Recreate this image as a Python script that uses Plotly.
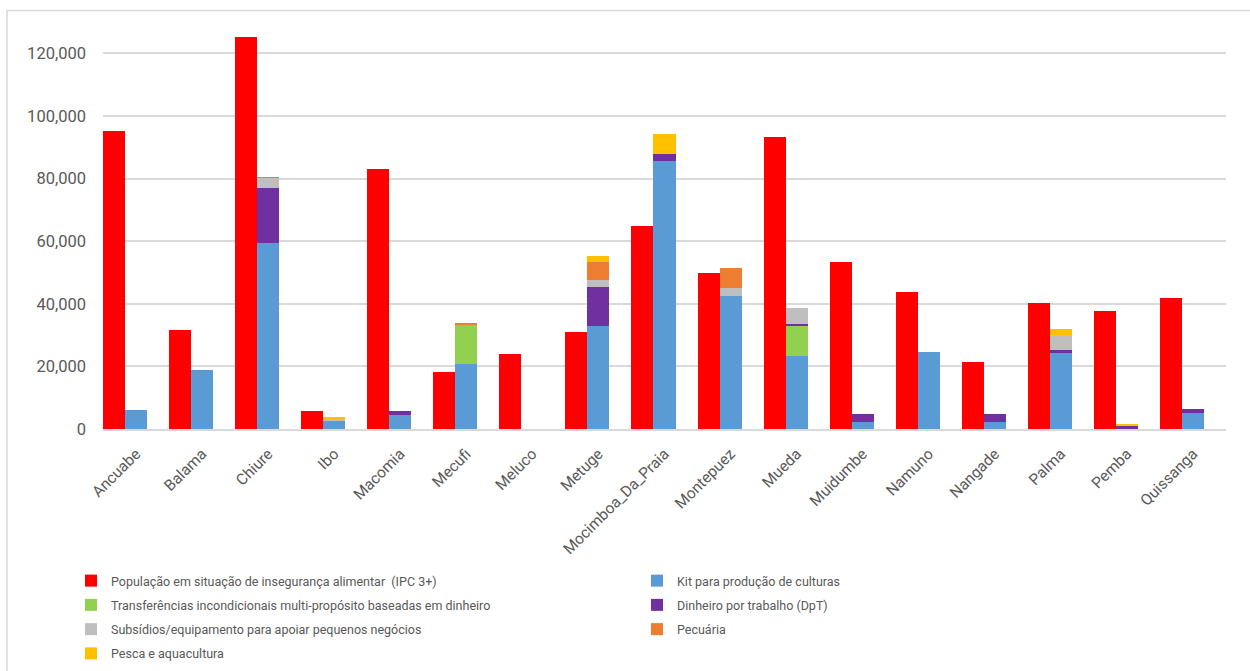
import numpy as np
import plotly.graph_objects as go

districts = ["Ancuabe", "Balama", "Chiure", "Ibo", "Macomia", "Mecufi", "Meluco", "Metuge",
             "Mocimboa_Da_Praia", "Montepuez", "Mueda", "Muidumbe", "Namuno", "Nangade",
             "Palma", "Pemba", "Quissanga"]

ipc3 = [95100, 31500, 125100, 5600, 83000, 18300, 23900, 31100, 65000, 49700, 93200, 53200,
        43900, 21300, 40100, 37600, 41900]
kit_culturas = [6100, 18700, 59500, 2700, 4600, 20800, 0, 33000, 85600, 42600, 23300, 2300,
                24600, 2300, 24300, 0, 5100]
transferencias = [0, 0, 0, 0, 0, 12600, 0, 0, 0, 0, 9800, 0, 0, 0, 0, 0, 0]
dinheiro_trabalho = [0, 0, 17600, 0, 1100, 0, 0, 12500, 2300, 0, 500, 2500, 0, 2500, 1000, 1100, 1400]
subsidios = [0, 0, 3100, 500, 0, 0, 0, 2100, 0, 2500, 5000, 0, 0, 0, 4600, 0, 0]
pecuaria = [0, 0, 200, 0, 0, 400, 0, 5800, 0, 6300, 0, 0, 0, 0, 0, 0, 0]
pesca = [0, 0, 0, 700, 0, 0, 0, 1800, 6400, 0, 0, 0, 0, 0, 2200, 500, 0]

names = {
    "ipc": "População em situação de insegurança alimentar  (IPC 3+)",
    "kit": "Kit para produção de culturas",
    "transf": "Transferências incondicionais multi-propósito baseadas em dinheiro",
    "dpt": "Dinheiro por trabalho (DpT)",
    "subs": "Subsídios/equipamento para apoiar pequenos negócios",
    "pec": "Pecuária",
    "pesca": "Pesca e aquacultura",
}

# (key, values, colour, legend column)
stack_series = [
    ("kit", kit_culturas, "#5B9BD5", "legend2"),
    ("transf", transferencias, "#92D050", "legend"),
    ("dpt", dinheiro_trabalho, "#7030A0", "legend2"),
    ("subs", subsidios, "#BFBFBF", "legend"),
    ("pec", pecuaria, "#ED7D31", "legend2"),
    ("pesca", pesca, "#FFC000", "legend"),
]

FONT = "Roboto, sans-serif"
TXT = "#595959"

fig = go.Figure()
fig.add_trace(go.Bar(x=districts, y=ipc3, name=names["ipc"], marker_color="#FF0000",
                     marker_line_width=0, offset=-0.5, width=1/3,
                     legend="legend", legendgroup="ipc"))

base = np.zeros(len(districts))
for key, vals, col, leg in stack_series:
    v = np.array(vals, dtype=float)
    fig.add_trace(go.Bar(x=districts, y=v, base=base.copy(), name=names[key], marker_color=col,
                         marker_line_width=0, offset=-0.5 + 1/3, width=1/3,
                         legend=leg, legendgroup=key))
    base = base + v

W, H = 1250, 671
ml, mr, mt, mb = 103, 24, 22, 242
pw, ph = W - ml - mr, H - mt - mb

def px_to_paper_x(px):
    return (px - ml) / pw

def px_to_paper_y(py):
    return (H - mb - py) / ph

fig.add_shape(type="rect", xref="paper", yref="paper",
              x0=px_to_paper_x(7), x1=px_to_paper_x(1262),
              y0=px_to_paper_y(690), y1=px_to_paper_y(10.5),
              line=dict(color="#D9D9D9", width=1.5), layer="below")

legend_common = dict(
    orientation="v",
    xref="container", yref="container",
    yanchor="top", xanchor="left",
    font=dict(family=FONT, size=12.5, color=TXT),
    traceorder="grouped",
    tracegroupgap=5,
    bgcolor="rgba(0,0,0,0)",
)

fig.update_layout(
    width=W, height=H,
    margin=dict(l=ml, r=mr, t=mt, b=mb, autoexpand=False),
    barmode="overlay",
    bargap=0,
    plot_bgcolor="white",
    paper_bgcolor="white",
    font=dict(family=FONT, size=14, color=TXT),
    showlegend=True,
    legend=dict(x=71 / W, y=1 - 566 / H, **legend_common),
    legend2=dict(x=637 / W, y=1 - 566 / H, **legend_common),
    xaxis=dict(
        type="category",
        range=[-0.5, len(districts) - 0.5],
        tickangle=-45,
        tickfont=dict(family=FONT, size=15.5, color=TXT),
        showgrid=False,
        showline=True, linecolor="#D9D9D9", linewidth=1.5,
        ticks="",
        ticklabelstandoff=8,
        automargin=False,
    ),
    yaxis=dict(
        range=[0, 130000],
        dtick=20000,
        tickformat=",",
        tickfont=dict(family=FONT, size=16.5, color=TXT),
        showgrid=True, gridcolor="#D9D9D9", gridwidth=1.5,
        zeroline=False,
        showline=False,
        ticks="",
        ticklabelstandoff=16,
        automargin=False,
    ),
)

fig.write_html("out.html")
